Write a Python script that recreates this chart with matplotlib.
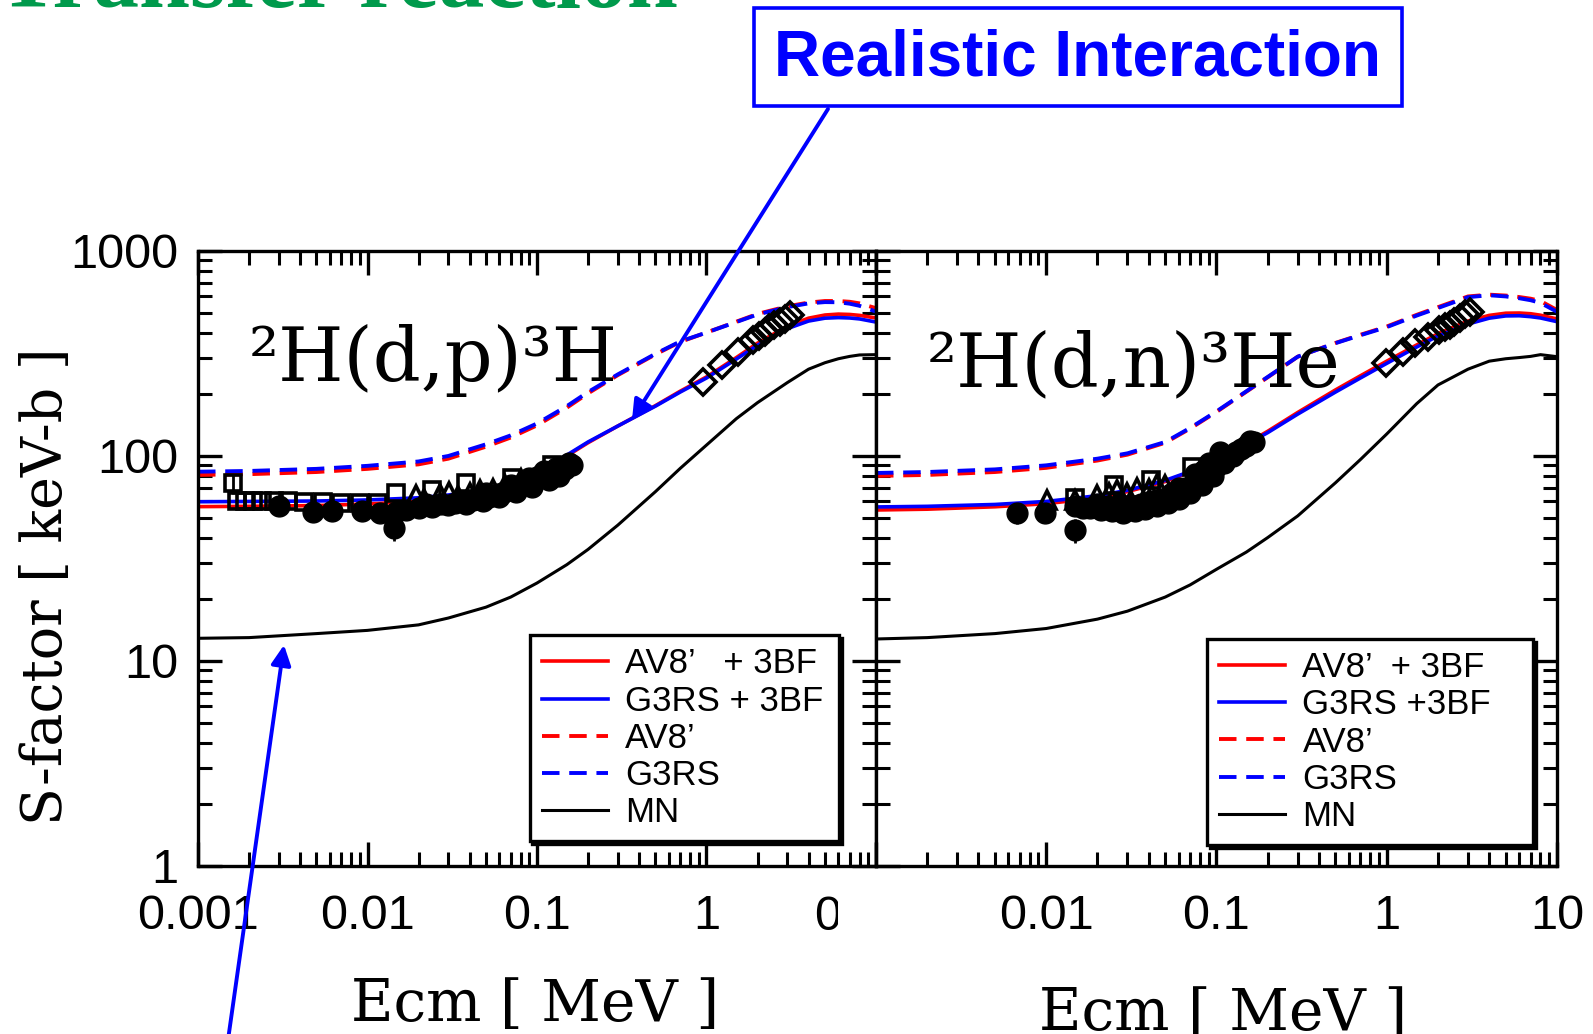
import numpy as np
import matplotlib
matplotlib.use("Agg")
import matplotlib.pyplot as plt
import matplotlib.patches as mpatches
from matplotlib.ticker import LogLocator, NullFormatter

# ---- data ----
E = [0.001, 0.002, 0.005, 0.01, 0.02, 0.03, 0.05, 0.07, 0.1, 0.15, 0.2, 0.3,
     0.5, 0.7, 1.0, 1.5, 2.0, 3.0, 4.0, 5.0, 6.0, 7.0, 8.0, 10.0]

# 2H(d,p)3H
dp_av8_3bf = [56.6, 56.8, 57.3, 58.3, 60.2, 62.5, 67, 73, 83, 100, 116, 140,
              176, 207, 243, 302, 355, 430, 470, 487, 492, 490, 485, 471]
dp_g3rs_3bf = [59.8, 60.0, 60.3, 61, 62.5, 64.5, 68.5, 74, 84, 101, 117, 140,
               175, 205, 240, 297, 347, 418, 455, 470, 473, 471, 466, 450]
dp_av8 = [80.8, 81.5, 83.5, 86.5, 91, 97, 111, 123, 141, 172, 202, 248,
          313, 360, 400, 452, 493, 537, 560, 570, 570, 565, 555, 526]
dp_g3rs = [83.8, 84.5, 86.5, 89.5, 94, 100, 114, 126, 144, 175, 205, 250,
           315, 362, 400, 450, 490, 532, 555, 563, 562, 553, 540, 506]
dp_mn = [12.9, 13.0, 13.6, 14.1, 15.0, 16.2, 18.3, 20.5, 24, 29.5, 35, 46,
         67, 87, 113, 152, 182, 228, 265, 285, 298, 306, 311, 312]

# 2H(d,n)3He
dn_av8_3bf = [54.5, 55, 56.5, 58.5, 62.5, 67, 75, 83.5, 96, 115, 132, 163,
              210, 246, 290, 348, 395, 455, 485, 497, 498, 494, 486, 466]
dn_g3rs_3bf = [56.4, 56.8, 58, 60, 64, 68, 76, 84, 96, 114, 130, 160,
               205, 240, 283, 340, 385, 440, 470, 482, 483, 478, 471, 452]
dn_av8 = [79.9, 80.8, 83.5, 87.5, 95, 101.5, 116, 136, 164, 206, 242, 305,
          356, 390, 428, 488, 532, 600, 612, 606, 596, 585, 570, 515]
dn_g3rs = [82.6, 83.5, 86, 90, 97, 103, 117, 137, 165, 207, 243, 305,
           355, 388, 425, 484, 527, 595, 608, 600, 588, 575, 558, 505]
dn_mn = [12.8, 13.0, 13.6, 14.4, 16, 17.5, 20.5, 23.5, 28, 34, 40, 51,
         74, 96, 128, 180, 222, 265, 290, 298, 302, 306, 312, 305]

# experimental points, (d,p)
dp_sq_E = [0.00161, 0.0017, 0.0019, 0.0021, 0.0024, 0.0028, 0.0034, 0.0042,
           0.0055, 0.007, 0.009, 0.0115, 0.0147, 0.0241, 0.038, 0.071, 0.123]
dp_sq_S = [73.5, 60, 60, 60.5, 60, 60, 60, 59.5, 59.5, 59, 59, 59, 65.7,
           68, 73.6, 78, 90]
dp_sq_err = [8, 0, 0, 0, 0, 0, 0, 0, 0, 0, 0, 0, 0, 0, 0, 0, 0]
dp_ci_E = [0.003, 0.00475, 0.0062, 0.0093, 0.0118, 0.0144, 0.0148, 0.0169,
           0.02, 0.024, 0.03, 0.038, 0.048, 0.06, 0.075, 0.094, 0.117, 0.135,
           0.147, 0.155, 0.05, 0.07, 0.09, 0.11, 0.022, 0.027, 0.033, 0.036,
           0.042, 0.045, 0.052, 0.058, 0.064, 0.068, 0.08, 0.085, 0.1, 0.105,
           0.125, 0.13, 0.14, 0.16]
dp_ci_S = [57, 53.5, 54, 54, 52.5, 44.6, 53.5, 54.6, 56, 56.4, 57.5, 58.5,
           60.5, 63, 66.5, 70.5, 76, 80, 86, 92, 66, 72, 78, 84, 58, 58, 59,
           60, 61, 62, 63, 65, 67, 69, 72, 74, 79, 81, 84, 87, 88, 90]
dp_ci_err = [6, 0, 0, 0, 0, 6, 0, 0, 0, 0, 0, 0, 0, 0, 0, 0, 0, 0, 0, 0,
             0, 0, 0, 0, 0, 0, 0, 0, 0, 0, 0, 0, 0, 0, 0, 0, 0, 0, 0, 0,
             0, 0]
dp_tr_E = [0.0194, 0.0215, 0.0269, 0.0302, 0.034, 0.04, 0.046, 0.055,
           0.065, 0.08]
dp_tr_S = [64.4, 62, 65, 67, 64, 66, 68, 69, 72, 77]
dp_di_E = [0.96, 1.23, 1.54, 1.89, 2.05, 2.2, 2.35, 2.5, 2.7, 2.9, 3.1]
dp_di_S = [230, 277, 322, 366, 385, 403, 420, 435, 452, 468, 488]

# experimental points, (d,n)
dn_ci_E = [0.00673, 0.00983, 0.0148, 0.0148, 0.0165, 0.0181, 0.021, 0.0245,
           0.0284, 0.033, 0.038, 0.0445, 0.052, 0.06, 0.07, 0.082, 0.095,
           0.11, 0.125, 0.14, 0.158, 0.06, 0.075, 0.09, 0.105, 0.02, 0.023,
           0.027, 0.031, 0.036, 0.041, 0.048, 0.055, 0.065, 0.078, 0.085,
           0.1, 0.115, 0.13, 0.15, 0.165]
dn_ci_S = [52.5, 52.5, 56.8, 43.5, 56, 55.5, 54.5, 54, 52.5, 54, 55, 56.8,
           59, 62, 65.7, 72, 80, 92, 100, 108, 118, 70, 82, 92, 104, 58, 57,
           58, 56, 58, 60, 62, 66, 70, 76, 85, 88, 98, 104, 112, 117]
dn_ci_err = [6, 0, 0, 6, 0, 0, 0, 0, 0, 0, 0, 0, 0, 0, 0, 0, 0, 0, 0, 0, 0,
             0, 0, 0, 0, 0, 0, 0, 0, 0, 0, 0, 0, 0, 0, 0, 0, 0, 0, 0, 0]
dn_tr_E = [0.0101, 0.0148, 0.0198, 0.0235, 0.0261, 0.03, 0.034, 0.04,
           0.045, 0.05]
dn_tr_S = [61, 61, 64.4, 66, 68, 66, 70, 69, 73, 72]
dn_sq_E = [0.0148, 0.0249, 0.041, 0.0716]
dn_sq_S = [62.1, 72.2, 76, 88.6]
dn_sq_err = [0, 0, 0, 0]
dn_di_E = [0.986, 1.25, 1.47, 1.74, 2.04, 2.2, 2.35, 2.5, 2.7, 2.9, 3.1]
dn_di_S = [284, 322, 354, 380, 410, 425, 436, 452, 473, 490, 505]

dp_labels = ["AV8\u2019   + 3BF", "G3RS + 3BF", "AV8\u2019", "G3RS", "MN"]
dn_labels = ["AV8\u2019  + 3BF", "G3RS +3BF", "AV8\u2019", "G3RS", "MN"]

# ---- style ----
plt.rcParams['font.family'] = ['Liberation Sans Narrow', 'Liberation Sans',
                               'DejaVu Sans']
RED = '#FF0000'
BLUE = '#0000FF'
DASH = (0, (4.5, 2.5))
SERIF = 'DejaVu Serif'

fig = plt.figure(figsize=(15.93, 10.34), dpi=100)
axL = fig.add_axes([0.1243, 0.1625, 0.4256, 0.5948])
axR = fig.add_axes([0.5499, 0.1625, 0.4275, 0.5948])


def draw_panel(ax, av8_3bf, g3rs_3bf, av8, g3rs, mn):
    ax.plot(E, av8_3bf, color=RED, lw=2.6)
    ax.plot(E, g3rs_3bf, color=BLUE, lw=2.6)
    ax.plot(E, av8, color=RED, lw=2.8, ls=DASH)
    ax.plot(E, g3rs, color=BLUE, lw=2.8, ls=DASH)
    ax.plot(E, mn, color='black', lw=2.2)


def points(ax, sqE, sqS, sqErr, ciE, ciS, ciErr, trE, trS, diE, diS):
    ax.errorbar(ciE, ciS, yerr=ciErr, fmt='o', ms=15, color='black',
                elinewidth=2, capsize=0, zorder=5)
    ax.errorbar(sqE, sqS, yerr=sqErr, fmt='s', ms=12, mfc='none',
                mec='black', mew=2.6, ecolor='black', elinewidth=2,
                capsize=0, zorder=6)
    ax.plot(trE, trS, '^', ms=13, mfc='none', mec='black', mew=2.6, zorder=6)
    ax.plot(diE, diS, 'D', ms=13, mfc='none', mec='black', mew=2.6, zorder=6)


draw_panel(axL, dp_av8_3bf, dp_g3rs_3bf, dp_av8, dp_g3rs, dp_mn)
points(axL, dp_sq_E, dp_sq_S, dp_sq_err, dp_ci_E, dp_ci_S, dp_ci_err,
       dp_tr_E, dp_tr_S, dp_di_E, dp_di_S)
draw_panel(axR, dn_av8_3bf, dn_g3rs_3bf, dn_av8, dn_g3rs, dn_mn)
points(axR, dn_sq_E, dn_sq_S, dn_sq_err, dn_ci_E, dn_ci_S, dn_ci_err,
       dn_tr_E, dn_tr_S, dn_di_E, dn_di_S)

decades = [0.001, 0.01, 0.1, 1, 10]
for ax, xlabs in [(axL, ['0.001', '0.01', '0.1', '1', '']),
                  (axR, ['', '0.01', '0.1', '1', '10'])]:
    ax.set_xscale('log')
    ax.set_yscale('log')
    ax.set_xlim(0.001, 10)
    ax.set_ylim(1, 1000)
    ax.set_xticks(decades, labels=xlabs)
    ax.set_yticks([1, 10, 100, 1000], labels=['1', '10', '100', '1000'])
    ax.xaxis.set_minor_locator(LogLocator(base=10, subs=np.arange(2, 10),
                                          numticks=30))
    ax.yaxis.set_minor_locator(LogLocator(base=10, subs=np.arange(2, 10),
                                          numticks=30))
    ax.xaxis.set_minor_formatter(NullFormatter())
    ax.yaxis.set_minor_formatter(NullFormatter())
    ax.tick_params(which='both', direction='in', top=True, right=True)
    ax.tick_params(which='major', length=17, width=2.4, labelsize=35)
    ax.tick_params(which='minor', length=10, width=2.2)
    ax.tick_params(axis='x', pad=20)
    ax.tick_params(axis='y', pad=14)
    for s in ax.spines.values():
        s.set_linewidth(2.4)

axR.tick_params(axis='y', labelleft=False)

# reaction labels
axL.text(0.075, 0.789, '\u00b2H(d,p)\u00b3H', transform=axL.transAxes,
         family=SERIF, fontsize=54, va='baseline', ha='left')
axR.text(0.075, 0.78, '\u00b2H(d,n)\u00b3He', transform=axR.transAxes,
         family=SERIF, fontsize=54, va='baseline', ha='left')

# legends
for ax, labs, x0, w, top in [(axL, dp_labels, 0.489, 0.4565, 0.375),
                             (axR, dn_labels, 0.486, 0.479, 0.369)]:
    leg = ax.legend(ax.lines[:5], labs, loc='upper left',
                    bbox_to_anchor=(x0, 0.0, w, top), mode='expand',
                    borderaxespad=0, prop={'family': 'Liberation Sans',
                                           'size': 25},
                    handlelength=1.9, handletextpad=0.5, labelspacing=0.12,
                    borderpad=0.35, fancybox=False, framealpha=1,
                    edgecolor='black',
                    shadow={'color': 'black', 'alpha': 1})
    leg.get_frame().set_linewidth(2.4)

# axis labels
fig.text(0.0295, 0.4333, 'S-factor [ keV-b ]', rotation=90, family=SERIF,
         fontsize=40, ha='center', va='center')
fig.text(0.3358, 0.0126, 'Ecm [ MeV ]', family=SERIF, fontsize=42,
         ha='center', va='baseline')
fig.text(0.768, 0.004, 'Ecm [ MeV ]', family=SERIF, fontsize=42,
         ha='center', va='baseline')

# clipped leftover of the left panel's "10" label
fig.text(828 / 1593, 1 - 917 / 1034, '0', fontsize=35, ha='center',
         va='center', zorder=4)
fig.add_artist(mpatches.Rectangle((838 / 1593, 1 - 945 / 1034),
                                  36 / 1593, 60 / 1034,
                                  transform=fig.transFigure, facecolor='white',
                                  edgecolor='none', zorder=5))

# green slide title, cut by the top edge
fig.text(678 / 1593, 1 - 7 / 1034, 'Transfer reaction', color='#009a4c',
         family='Liberation Serif', weight='bold', fontsize=66, ha='right',
         va='baseline')

# "Realistic Interaction" box and arrows
fig.add_artist(mpatches.Rectangle((754 / 1593, 1 - 106 / 1034),
                                  648 / 1593, 98 / 1034,
                                  transform=fig.transFigure, fill=False,
                                  edgecolor=BLUE, lw=2.6))
fig.text(1078 / 1593, 1 - 58 / 1034, 'Realistic Interaction', color=BLUE,
         family='Liberation Sans', weight='bold', fontsize=46,
         ha='center', va='center')
for (xa, ya), (xb, yb) in [((828, 109), (632, 420)),
                           ((228, 1040), (284, 645))]:
    fig.add_artist(mpatches.FancyArrowPatch(
        (xa / 1593, 1 - ya / 1034), (xb / 1593, 1 - yb / 1034),
        transform=fig.transFigure, arrowstyle='-|>', mutation_scale=30,
        lw=2.8, color=BLUE, shrinkA=0, shrinkB=0, zorder=10))

plt.savefig('out.png', dpi=100)
